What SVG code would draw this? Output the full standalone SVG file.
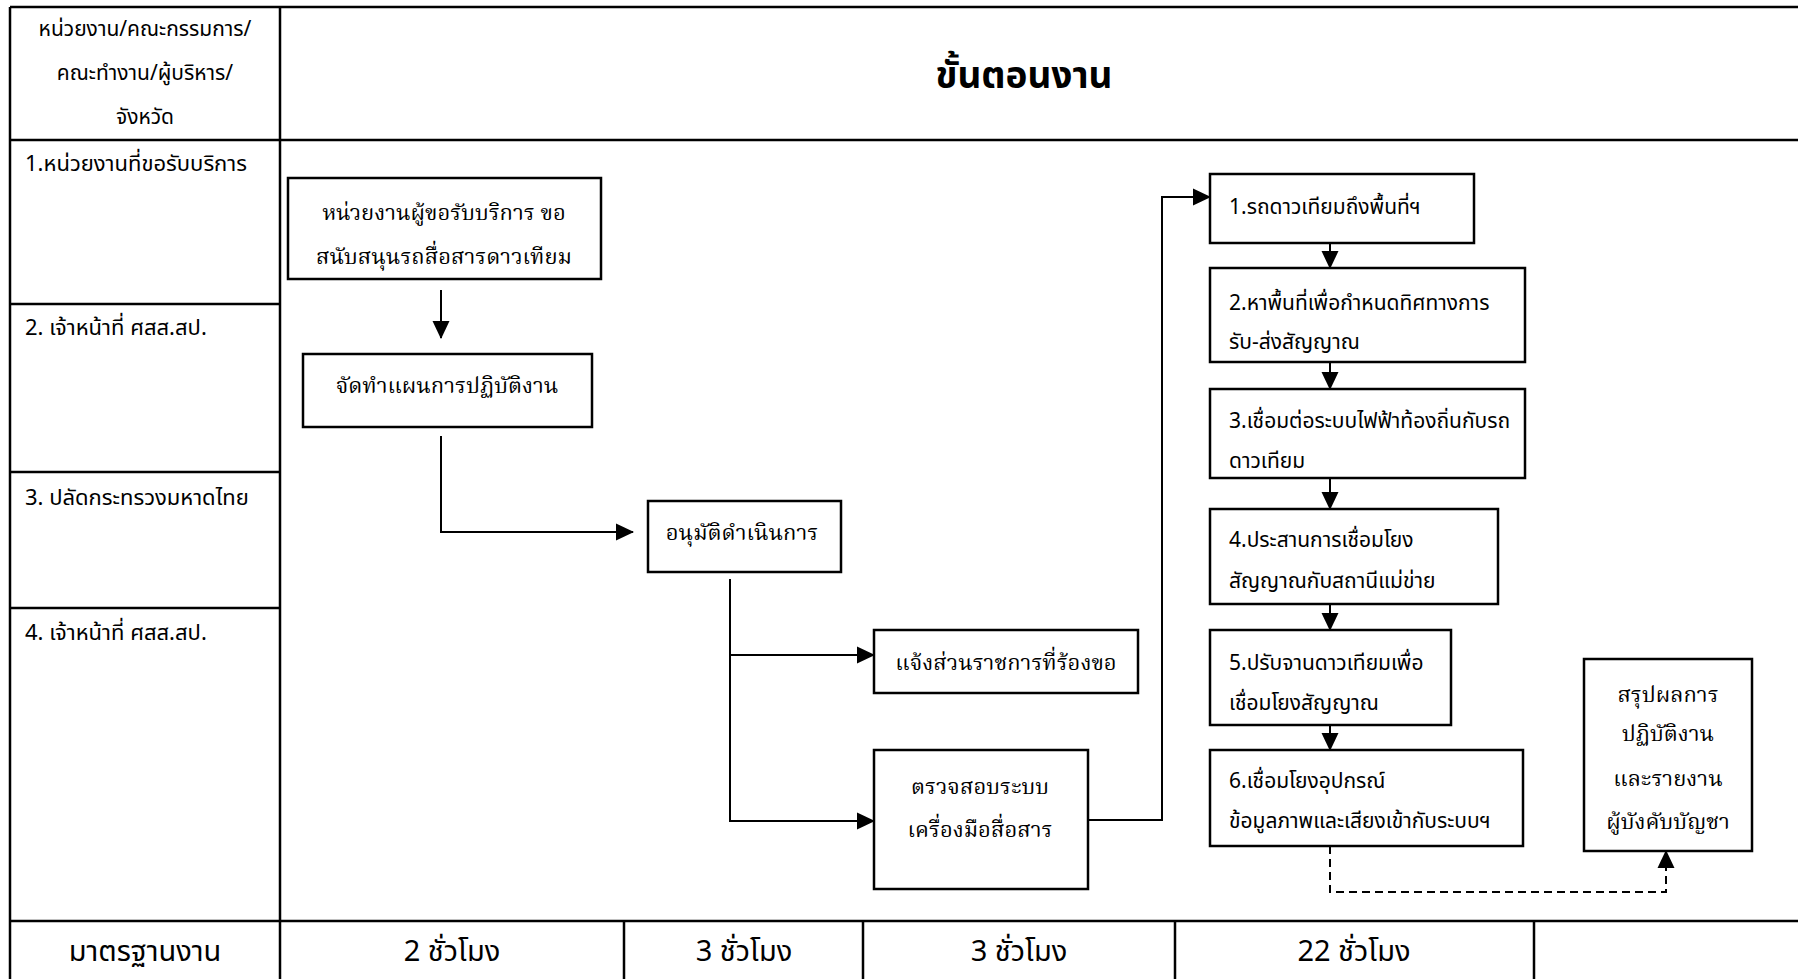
<svg xmlns="http://www.w3.org/2000/svg" width="1798" height="979" viewBox="0 0 1798 979">
<style>
.grid{stroke:#000;stroke-width:2.5;fill:none}
.box{stroke:#000;stroke-width:2.5;fill:#fff}
.ln{stroke:#000;stroke-width:2;fill:none}
.dash{stroke:#000;stroke-width:2;fill:none;stroke-dasharray:8,5}
.s{font-family:"Noto Sans Thai","Noto Sans","DejaVu Sans",sans-serif;font-size:21px;fill:#000}
.r{font-family:"Noto Sans Thai","Noto Sans","DejaVu Sans",sans-serif;font-size:22px;fill:#000}
.sf{font-family:"Noto Serif Thai","Noto Sans Thai","DejaVu Serif",serif;font-size:22px;fill:#000}
.c{text-anchor:middle}
.t{font-family:"Noto Sans Thai","Noto Sans",sans-serif;font-size:37px;font-weight:bold;fill:#000}
.b{font-family:"Noto Sans Thai","Noto Sans",sans-serif;font-size:29px;fill:#000}
</style>
<defs>
<marker id="ahb" markerWidth="18" markerHeight="18" refX="17" refY="9" orient="auto" markerUnits="userSpaceOnUse" viewBox="0 0 18 18">
<path d="M0,0.5 L18,9 L0,17.5 Z" fill="#000"/>
</marker>
</defs>
<rect width="1798" height="979" fill="#fff"/>
<g id="table">
<path class="grid" d="M10,7 H1798 M10,7 V979 M280,7 V979 M10,140 H1798 M10,304 H280 M10,472 H280 M10,608 H280 M10,921 H1798 M624,921 V979 M863,921 V979 M1175,921 V979 M1534,921 V979"/>
<text class="s c" x="145" y="36">หน่วยงาน/คณะกรรมการ/</text>
<text class="s c" x="145" y="80">คณะทำงาน/ผู้บริหาร/</text>
<text class="s c" x="145" y="124">จังหวัด</text>
<text class="t c" x="1024" y="88">ขั้นตอนงาน</text>
<text class="r" x="25" y="171">1.หน่วยงานที่ขอรับบริการ</text>
<text class="r" x="25" y="335">2. เจ้าหน้าที่ ศสส.สป.</text>
<text class="r" x="25" y="505">3. ปลัดกระทรวงมหาดไทย</text>
<text class="r" x="25" y="640">4. เจ้าหน้าที่ ศสส.สป.</text>
<text class="b c" x="145" y="961">มาตรฐานงาน</text>
<text class="b c" x="452" y="961">2 ชั่วโมง</text>
<text class="b c" x="744" y="961">3 ชั่วโมง</text>
<text class="b c" x="1019" y="961">3 ชั่วโมง</text>
<text class="b c" x="1354" y="961">22 ชั่วโมง</text>
</g>
<g id="connectors">
<path class="ln" d="M441,290 V338" marker-end="url(#ahb)"/>
<path class="ln" d="M441,436 V532 H633" marker-end="url(#ahb)"/>
<path class="ln" d="M730,579 V821 H874" marker-end="url(#ahb)"/>
<path class="ln" d="M730,655 H874" marker-end="url(#ahb)"/>
<path class="ln" d="M1088,820 H1162 V197 H1210" marker-end="url(#ahb)"/>
<path class="ln" d="M1330,243 V268" marker-end="url(#ahb)"/>
<path class="ln" d="M1330,362 V389" marker-end="url(#ahb)"/>
<path class="ln" d="M1330,478 V509" marker-end="url(#ahb)"/>
<path class="ln" d="M1330,604 V630" marker-end="url(#ahb)"/>
<path class="ln" d="M1330,725 V750" marker-end="url(#ahb)"/>
<path class="dash" d="M1330,846 V892 H1666 V851" marker-end="url(#ahb)"/>
</g>
<g id="nodeA"><rect class="box" x="288" y="178" width="313" height="101"/>
<text class="sf c" x="444" y="220">หน่วยงานผู้ขอรับบริการ ขอ</text>
<text class="sf c" x="444" y="264">สนับสนุนรถสื่อสารดาวเทียม</text></g>
<g id="nodeB"><rect class="box" x="303" y="354" width="289" height="73"/>
<text class="sf c" x="447" y="393">จัดทำแผนการปฏิบัติงาน</text></g>
<g id="nodeC"><rect class="box" x="648" y="501" width="193" height="71"/>
<text class="sf c" x="742" y="540">อนุมัติดำเนินการ</text></g>
<g id="nodeD"><rect class="box" x="874" y="630" width="264" height="63"/>
<text class="sf c" x="1006" y="670">แจ้งส่วนราชการที่ร้องขอ</text></g>
<g id="nodeE"><rect class="box" x="874" y="750" width="214" height="139"/>
<text class="sf c" x="980" y="794">ตรวจสอบระบบ</text>
<text class="sf c" x="980" y="837">เครื่องมือสื่อสาร</text></g>
<g id="step1"><rect class="box" x="1210" y="174" width="264" height="69"/>
<text class="s" x="1229" y="214">1.รถดาวเทียมถึงพื้นที่ฯ</text></g>
<g id="step2"><rect class="box" x="1210" y="268" width="315" height="94"/>
<text class="s" x="1229" y="310">2.หาพื้นที่เพื่อกำหนดทิศทางการ</text>
<text class="s" x="1229" y="349">รับ-ส่งสัญญาณ</text></g>
<g id="step3"><rect class="box" x="1210" y="389" width="315" height="89"/>
<text class="s" x="1229" y="428">3.เชื่อมต่อระบบไฟฟ้าท้องถิ่นกับรถ</text>
<text class="s" x="1229" y="468">ดาวเทียม</text></g>
<g id="step4"><rect class="box" x="1210" y="509" width="288" height="95"/>
<text class="s" x="1229" y="547">4.ประสานการเชื่อมโยง</text>
<text class="s" x="1229" y="588">สัญญาณกับสถานีแม่ข่าย</text></g>
<g id="step5"><rect class="box" x="1210" y="630" width="241" height="95"/>
<text class="s" x="1229" y="670">5.ปรับจานดาวเทียมเพื่อ</text>
<text class="s" x="1229" y="710">เชื่อมโยงสัญญาณ</text></g>
<g id="step6"><rect class="box" x="1210" y="750" width="313" height="96"/>
<text class="s" x="1229" y="788">6.เชื่อมโยงอุปกรณ์</text>
<text class="s" x="1229" y="828">ข้อมูลภาพและเสียงเข้ากับระบบฯ</text></g>
<g id="nodeF"><rect class="box" x="1584" y="659" width="168" height="192"/>
<text class="sf c" x="1668" y="702">สรุปผลการ</text>
<text class="sf c" x="1668" y="741">ปฏิบัติงาน</text>
<text class="sf c" x="1668" y="786">และรายงาน</text>
<text class="sf c" x="1668" y="829">ผู้บังคับบัญชา</text></g>
</svg>
